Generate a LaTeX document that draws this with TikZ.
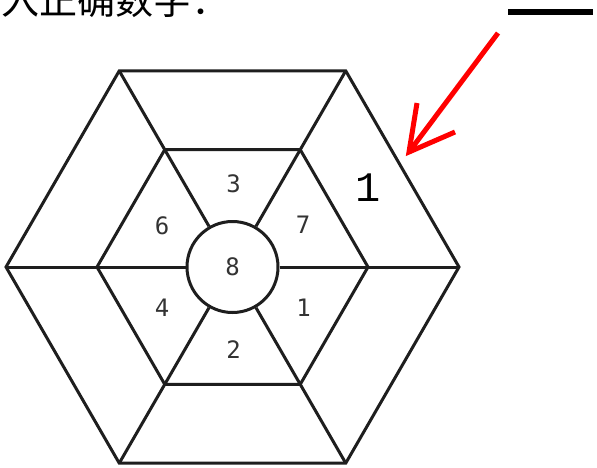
\documentclass[tikz,border=0pt]{standalone}
\usepackage{fontspec}
\usetikzlibrary{calc}
\newfontfamily\cjk{Noto Sans CJK SC}
\newfontfamily\digitfont{Liberation Mono}
\newfontfamily\smalldigitfont{DejaVu Sans Mono}
\definecolor{ink}{HTML}{1E1E1E}
\definecolor{numc}{HTML}{333333}
\begin{document}
\begin{tikzpicture}[x=1pt,y=-1pt,
  hexline/.style={draw=ink,line width=3pt,line join=miter},
  numlabel/.style={text=numc,inner sep=0pt,font=\smalldigitfont\fontsize{24}{24}\selectfont},
  redarrow/.style={draw=red,line width=5pt,line join=miter}]
\useasboundingbox (0,0) rectangle (597,467);
\fill[white] (0,0) rectangle (597,467);
% title (cut off at top, as in the reference)
\node[anchor=base west,inner sep=0pt,font=\cjk\fontsize{38}{38}\selectfont] (title) at (1,14) {入正确数字：};
% thick line top right
\fill[black] (508,9) rectangle (593,15);
% hexagon geometry
\coordinate (C) at (232.5,267);
\foreach \i in {0,...,5}{
  \coordinate (o\i) at ($(C)+(\i*60:226.5)$);
  \coordinate (n\i) at ($(C)+(\i*60:135.5)$);
}
\draw[hexline] (o0)--(o1)--(o2)--(o3)--(o4)--(o5)--cycle;
\draw[hexline] (n0)--(n1)--(n2)--(n3)--(n4)--(n5)--cycle;
\node[circle,hexline,minimum size=91pt,inner sep=0pt,numlabel] (ctr) at (C) {8};
\foreach \i in {0,...,5}{
  \draw[hexline] (ctr) -- (o\i);
}
% numbers
\node[numlabel] (l3) at (233.5,184) {3};
\node[numlabel] (l6) at (162,226) {6};
\node[numlabel] (l7) at (303,225) {7};
\node[numlabel] (l4) at (162,308) {4};
\node[numlabel] (l1) at (303.5,307.5) {1};
\node[numlabel] (l2) at (233.5,350) {2};
\node[text=black,inner sep=0pt,font=\digitfont\fontsize{42}{42}\selectfont] (big1) at (368,188) {1};
% red arrow
\coordinate (atail) at (498,33);
\coordinate (atip) at (409,152);
\coordinate (ab1) at (417,103);
\coordinate (ab2) at (455,132);
\draw[redarrow] (atail) -- (atip);
\draw[redarrow] (ab1) -- (atip) -- (ab2);
\end{tikzpicture}
\end{document}
